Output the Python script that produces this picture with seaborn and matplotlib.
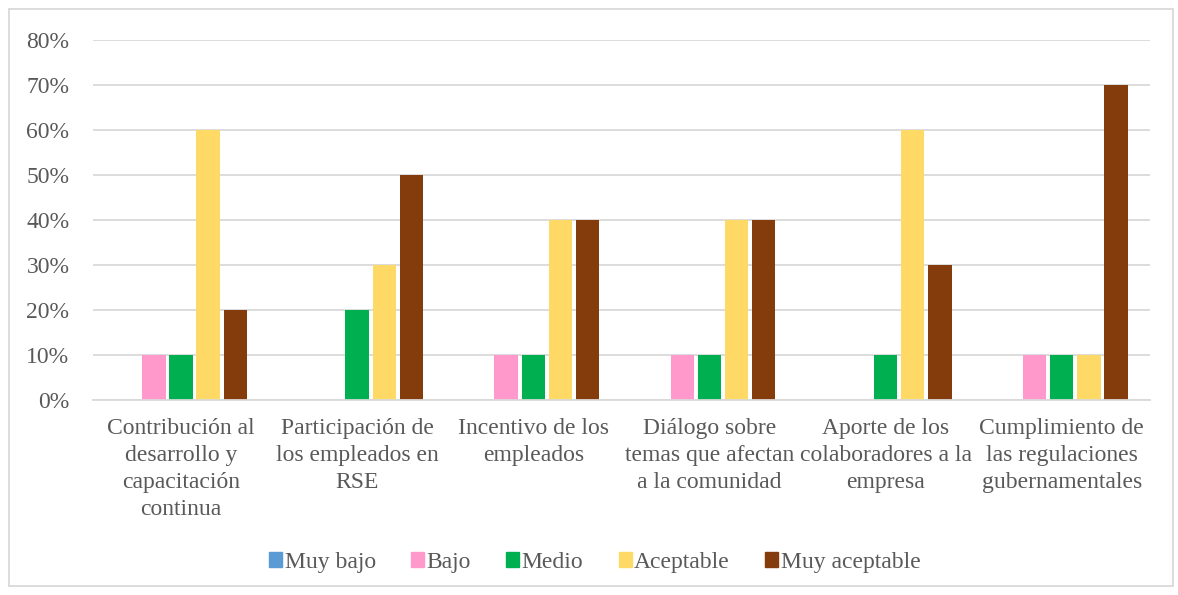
import pandas as pd
import matplotlib.pyplot as plt
import matplotlib.patches as mpatches
import seaborn as sns
from matplotlib.ticker import FuncFormatter

categories = [
    "Contribución al\ndesarrollo y\ncapacitación\ncontinua",
    "Participación de\nlos empleados en\nRSE",
    "Incentivo de los\nempleados",
    "Diálogo sobre\ntemas que afectan\na la comunidad",
    "Aporte de los\ncolaboradores a la\nempresa",
    "Cumplimiento de\nlas regulaciones\ngubernamentales",
]
levels = ["Muy bajo", "Bajo", "Medio", "Aceptable", "Muy aceptable"]
muy_bajo = [0, 0, 0, 0, 0, 0]
bajo = [10, 0, 10, 10, 0, 10]
medio = [10, 20, 10, 10, 10, 10]
aceptable = [60, 30, 40, 40, 60, 10]
muy_aceptable = [20, 50, 40, 40, 30, 70]
colors = ["#5B9BD5", "#FF99CC", "#00B050", "#FFD966", "#843C0C"]

rows = []
for lvl, vals in zip(levels, [muy_bajo, bajo, medio, aceptable, muy_aceptable]):
    for cat, v in zip(categories, vals):
        rows.append({"cat": cat, "level": lvl, "value": v})
df = pd.DataFrame(rows)

sns.set_style("white")
plt.rcParams['font.family'] = ['Liberation Serif', 'DejaVu Serif']
text_color = "#595959"

fig = plt.figure(figsize=(11.78, 5.95), dpi=100)
ax = fig.add_axes([0.079, 0.328, 0.897, 0.605])

sns.barplot(data=df, x="cat", y="value", hue="level", hue_order=levels,
            order=categories, palette=colors, saturation=1, width=0.77, gap=0.13,
            linewidth=0, ax=ax, legend=False)

ax.set_ylim(0, 80)
ax.set_yticks(range(0, 81, 10))
ax.yaxis.set_major_formatter(FuncFormatter(lambda v, p: f"{int(v)}%"))
ax.set_xlim(-0.5, len(categories) - 0.5)
ax.grid(axis='y', color="#D9D9D9", linewidth=1.3)
ax.set_axisbelow(True)
for s in ["top", "right", "left"]:
    ax.spines[s].set_visible(False)
ax.spines["bottom"].set_color("#D9D9D9")
ax.spines["bottom"].set_linewidth(1.3)
ax.tick_params(axis='both', length=0, labelsize=17, colors=text_color)
ax.tick_params(axis='y', pad=17)
ax.tick_params(axis='x', pad=13)
for lab in ax.get_xticklabels():
    lab.set_linespacing(1.38)
ax.set_xlabel("")
ax.set_ylabel("")

handles = [mpatches.Patch(color=c, label=l) for c, l in zip(colors, levels)]
fig.legend(handles=handles, loc='center', bbox_to_anchor=(0.505, 0.055), ncol=5,
           frameon=False, fontsize=17, handlelength=0.55, handleheight=0.55,
           handletextpad=0.1, columnspacing=1.5, labelcolor=text_color)

fig.patches.append(mpatches.Rectangle((0.008, 0.015), 0.988, 0.97, transform=fig.transFigure,
                                      fill=False, edgecolor="#D9D9D9", linewidth=1.3))

plt.savefig("out.png", dpi=100)
